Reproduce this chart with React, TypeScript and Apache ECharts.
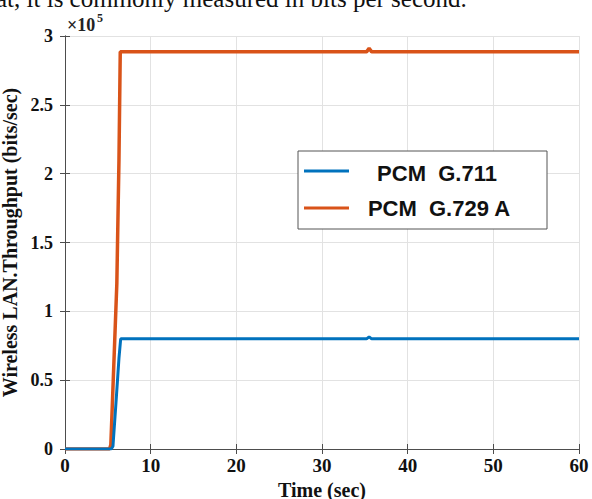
import React, { useEffect, useRef } from "react";
import * as echarts from "echarts";

const g711: [number, number][] = [
  [0, 0], [5.4, 0], [5.6, 2000], [6.0, 38000], [6.3, 66000], [6.5, 80000],
  [35.2, 80000], [35.5, 81500], [35.8, 80000], [60, 80000],
];
const g729: [number, number][] = [
  [0, 0], [5.2, 0], [5.35, 3000], [6.05, 120000], [6.3, 210000], [6.45, 288500],
  [35.2, 288500], [35.5, 291000], [35.8, 288500], [60, 288500],
];
const seriesNames = ["PCM  G.711", "PCM  G.729 A"];
const colors = ["#0072BD", "#D95319"];

const serif = "'Liberation Serif', 'Times New Roman', serif";

export default function App() {
  const ref = useRef<HTMLDivElement>(null);
  useEffect(() => {
    if (!ref.current) return;
    const chart = echarts.init(ref.current, null, { renderer: "svg" });
    const axisLine = { show: true, lineStyle: { color: "#4d4d4d", width: 1 } };
    const tick = { show: true, inside: true, length: 5, lineStyle: { color: "#4d4d4d" } };
    chart.setOption({
      animation: false,
      backgroundColor: "#ffffff",
      grid: {
        left: 65, right: 13, top: 36, bottom: 50, containLabel: false,
        outerBoundsMode: "none",
      },
      xAxis: [
        {
          type: "value", min: 0, max: 60, interval: 10, position: "bottom",
          axisLine, axisTick: tick,
          axisLabel: { color: "#111", fontFamily: serif, fontWeight: "bold", fontSize: 19, margin: 7 },
          splitLine: { show: true, lineStyle: { color: "#e2e2e2", width: 1 } },
          name: "Time (sec)", nameLocation: "middle", nameGap: 29,
          nameTextStyle: { color: "#111", fontFamily: serif, fontWeight: "bold", fontSize: 20 },
        },
        {
          type: "value", min: 0, max: 60, interval: 10, position: "top",
          axisLine, axisTick: tick,
          axisLabel: { show: false }, splitLine: { show: false },
        },
      ],
      yAxis: [
        {
          type: "value", min: 0, max: 300000, interval: 50000, position: "left",
          axisLine, axisTick: tick,
          axisLabel: {
            color: "#111", fontFamily: serif, fontWeight: "bold", fontSize: 18, margin: 12,
            formatter: (v: number) => String(v / 100000),
          },
          splitLine: { show: true, lineStyle: { color: "#e2e2e2", width: 1 } },
          name: "Wireless LAN.Throughput (bits/sec)", nameLocation: "middle", nameGap: 34,
          nameTextStyle: { color: "#111", fontFamily: serif, fontWeight: "bold", fontSize: 20 },
        },
        {
          type: "value", min: 0, max: 300000, interval: 50000, position: "right",
          axisLine, axisTick: tick,
          axisLabel: { show: false }, splitLine: { show: false },
        },
      ],
      series: [
        {
          name: seriesNames[0], type: "line", data: g711, showSymbol: false,
          lineStyle: { color: colors[0], width: 3 }, itemStyle: { color: colors[0] }, z: 3,
        },
        {
          name: seriesNames[1], type: "line", data: g729, showSymbol: false,
          lineStyle: { color: colors[1], width: 3.5 }, itemStyle: { color: colors[1] }, z: 2,
        },
      ],
      graphic: [
        {
          type: "text", left: -4, top: -14,
          style: {
            text: "at, it is commonly measured in bits per second.", font: `25px ${serif}`,
            fill: "#111",
          },
        },
        {
          type: "text", x: 67, y: 16,
          style: {
            text: "×10", font: `bold 18px ${serif}`, fill: "#222", verticalAlign: "top",
          },
        },
        {
          type: "text", x: 97, y: 12,
          style: {
            text: "5", font: `bold 12px ${serif}`, fill: "#222", verticalAlign: "top",
          },
        },
        {
          type: "rect", shape: { x: 298, y: 151, width: 249, height: 78 },
          style: { fill: "#ffffff", stroke: "#555", lineWidth: 1 }, z: 100,
        },
        {
          type: "line", shape: { x1: 304, y1: 171, x2: 349, y2: 171 },
          style: { stroke: colors[0], lineWidth: 3 }, z: 101,
        },
        {
          type: "line", shape: { x1: 304, y1: 208, x2: 349, y2: 208 },
          style: { stroke: colors[1], lineWidth: 3 }, z: 101,
        },
        {
          type: "text", x: 437, y: 173,
          style: {
            text: seriesNames[0], font: "bold 22px 'Liberation Sans', Arial, sans-serif",
            fill: "#111", align: "center", verticalAlign: "middle",
          }, z: 101,
        },
        {
          type: "text", x: 439, y: 208,
          style: {
            text: seriesNames[1], font: "bold 22px 'Liberation Sans', Arial, sans-serif",
            fill: "#111", align: "center", verticalAlign: "middle",
          }, z: 101,
        },
      ],
    });
    return () => chart.dispose();
  }, []);
  return (
    <div
      ref={ref}
      style={{ position: "absolute", left: 0, top: 0, width: 592, height: 499 }}
    />
  );
}
